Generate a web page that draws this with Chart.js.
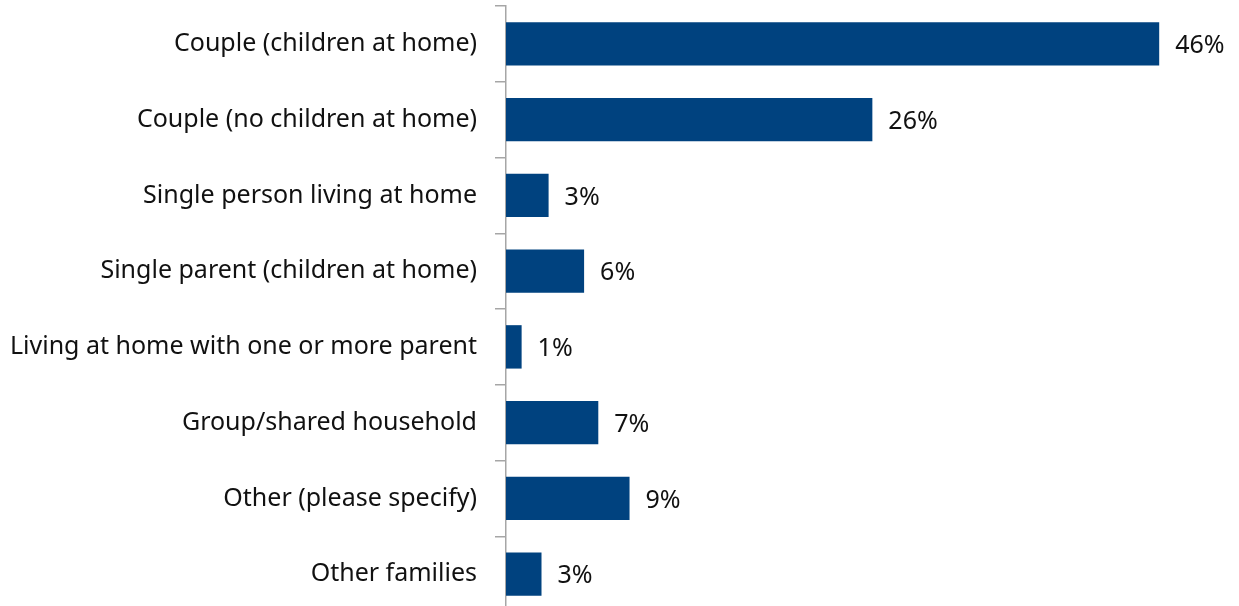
<!DOCTYPE html>
<html>
<head>
<meta charset="utf-8">
<script src="https://cdn.jsdelivr.net/npm/chart.js@4.4.1/dist/chart.umd.min.js"></script>
<style>
  html, body { margin: 0; padding: 0; background: #fff; overflow: hidden; }
  #wrap { width: 1239px; height: 606px; overflow: hidden; }
  #box { width: 1239px; height: 620px; position: relative; }
</style>
</head>
<body>
<div id="wrap"><div id="box"><canvas id="chart"></canvas></div></div>
<script>
const categories = [
  'Couple (children at home)',
  'Couple (no children at home)',
  'Single person living at home',
  'Single parent (children at home)',
  'Living at home with one or more parent',
  'Group/shared household',
  'Other (please specify)',
  'Other families'
];
const shares = [46.0, 25.8, 3.0, 5.5, 1.1, 6.5, 8.7, 2.5];

const FONT = '"Noto Sans", "Open Sans", sans-serif';
const TEXT = '#111111';

// value labels to the right of each bar
const valueLabels = {
  id: 'valueLabels',
  afterDatasetsDraw(chart) {
    const { ctx } = chart;
    const meta = chart.getDatasetMeta(0);
    ctx.save();
    ctx.font = '25px ' + FONT;
    ctx.fillStyle = TEXT;
    ctx.textBaseline = 'middle';
    ctx.textAlign = 'left';
    meta.data.forEach((bar, i) => {
      ctx.fillText(Math.round(shares[i]) + '%', bar.x + 16, bar.y + 2);
    });
    ctx.restore();
  }
};

new Chart(document.getElementById('chart'), {
  type: 'bar',
  data: {
    labels: categories,
    datasets: [{
      data: shares,
      backgroundColor: '#00427f',
      borderWidth: 0,
      barPercentage: 0.573,
      categoryPercentage: 1
    }]
  },
  options: {
    indexAxis: 'y',
    responsive: true,
    maintainAspectRatio: false,
    animation: false,
    layout: { padding: { top: 6, bottom: 8, left: 0, right: 23 } },
    plugins: { legend: { display: false }, tooltip: { enabled: false } },
    scales: {
      x: {
        display: false,
        min: 0,
        max: 50
      },
      y: {
        afterFit: (scale) => {
          scale.width = 506;
          scale.paddingTop = 0;
          scale.paddingBottom = 0;
        },
        grid: {
          drawOnChartArea: false,
          drawTicks: true,
          tickLength: 11,
          color: '#a6a6a6',
          lineWidth: 1.5,
          offset: true
        },
        border: { display: true, color: '#a6a6a6', width: 1.5 },
        ticks: {
          padding: 18,
          color: TEXT,
          font: { family: FONT, size: 25 }
        }
      }
    }
  },
  plugins: [valueLabels]
});
</script>
</body>
</html>
